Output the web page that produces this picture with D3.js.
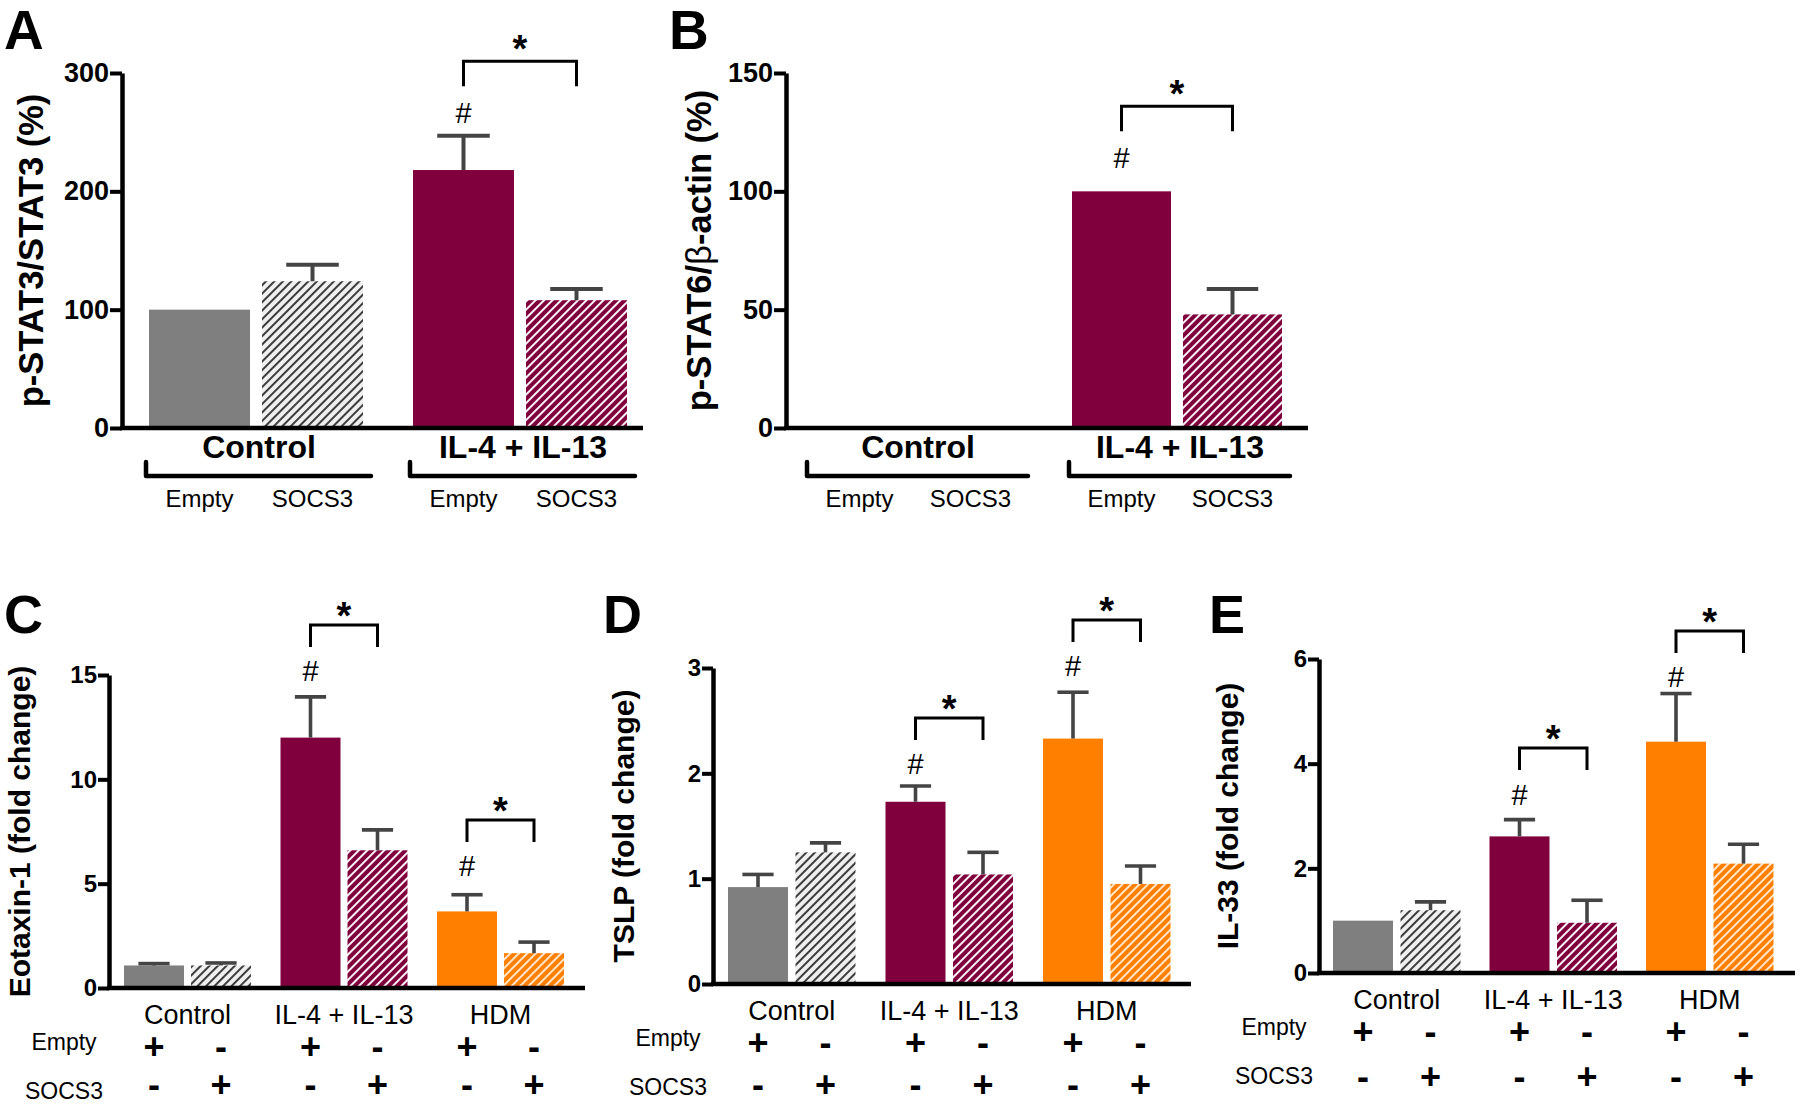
<!DOCTYPE html>
<html><head><meta charset="utf-8">
<script src="https://cdn.jsdelivr.net/npm/d3@7"></script>
<style>
body{margin:0;background:#fff}
svg{display:block}
text{font-family:"Liberation Sans",Arial,Helvetica,sans-serif}
</style>
</head><body>
<svg id="chart" width="1800" height="1106"></svg>
<script>
// ---------------- DATA ----------------
const groupsAB = ["Control", "IL-4 + IL-13"];
const groupsCDE = ["Control", "IL-4 + IL-13", "HDM"];
const vectors = ["Empty", "SOCS3"];
const emptySigns = ["+", "-", "+", "-", "+", "-"];
const socs3Signs = ["-", "+", "-", "+", "-", "+"];

// A: p-STAT3/STAT3 (%)
const ticksA = [0, 100, 200, 300];
const stat3Mean = [100, 124, 218, 108];
const stat3Err = [0, 14, 29, 9.5];
const hashA = [[2, 266]];
const bracketA = [[2, 3, 310]];

// B: p-STAT6/beta-actin (%)
const ticksB = [0, 50, 100, 150];
const stat6Mean = [null, null, 100, 48];
const stat6Err = [0, 0, 0, 10.7];
const hashB = [[2, 114]];
const bracketB = [[2, 3, 136]];

// C: Eotaxin-1 (fold change)
const ticksC = [0, 5, 10, 15];
const eotaxinMean = [1.08, 1.08, 12.0, 6.6, 3.67, 1.67];
const eotaxinErr = [0.09, 0.12, 1.95, 0.98, 0.8, 0.53];
const hashC = [[2, 15.2], [4, 5.85]];
const bracketC = [[2, 3, 17.4], [4, 5, 8.05]];

// D: TSLP (fold change)
const ticksD = [0, 1, 2, 3];
const tslpMean = [0.92, 1.25, 1.73, 1.04, 2.33, 0.95];
const tslpErr = [0.12, 0.09, 0.15, 0.21, 0.44, 0.17];
const hashD = [[2, 2.09], [4, 3.02]];
const bracketD = [[2, 3, 2.525], [4, 5, 3.456]];

// E: IL-33 (fold change)
const ticksE = [0, 2, 4, 6];
const il33Mean = [1.0, 1.2, 2.61, 0.96, 4.42, 2.09];
const il33Err = [0, 0.16, 0.32, 0.43, 0.92, 0.37];
const hashE = [[2, 3.4], [4, 5.66]];
const bracketE = [[2, 3, 4.3], [4, 5, 6.535]];

// ---------------- LAYOUT / STYLE ----------------
const COLORS = {gray: "#7f7f7f", maroon: "#7f003c", orange: "#ff8000"};
const familyOf = ["gray", "maroon", "orange"];
const W = 1800, H = 1106;

const svg = d3.select("#chart");
const defs = svg.append("defs");
function hatch(id, bg, fg, w) {
  const p = defs.append("pattern").attr("id", id)
    .attr("patternUnits", "userSpaceOnUse").attr("width", 6).attr("height", 6)
    .attr("patternTransform", "rotate(45)");
  p.append("rect").attr("width", 6).attr("height", 6).attr("fill", bg);
  p.append("line").attr("x1", 3).attr("y1", -1).attr("x2", 3).attr("y2", 7)
    .attr("stroke", fg).attr("stroke-width", w);
}
hatch("h-gray", "#efefef", "#333333", 1.9);
hatch("h-maroon", COLORS.maroon, "#ffffff", 1.9);
hatch("h-orange", COLORS.orange, "#ffffff", 1.6);

const panels = [
  {letter: "A", lx: 4, ly: 49, ls: 55, label: ["p-STAT3/STAT3 (%)"], labX: 43, labSize: 34.5,
   groups: groupsAB, mean: stat3Mean, err: stat3Err, ticks: ticksA, ymax: 300,
   hash: hashA, brackets: bracketA, kind: "AB",
   axisX: 122, axisEnd: 643, y0: 428, yTop: 73, barStart: 149, barW: 101, innerGap: 12, groupGap: 50},
  {letter: "B", lx: 669, ly: 49, ls: 55, label: ["p-STAT6/", "β", "-actin (%)"], labX: 711, labSize: 34.5,
   groups: groupsAB, mean: stat6Mean, err: stat6Err, ticks: ticksB, ymax: 150,
   hash: hashB, brackets: bracketB, kind: "AB",
   axisX: 786, axisEnd: 1308, y0: 428, yTop: 73, barStart: 810, barW: 99, innerGap: 12, groupGap: 52},
  {letter: "C", lx: 4, ly: 633, ls: 54, label: ["Eotaxin-1 (fold change)"], labX: 30, labSize: 30,
   groups: groupsCDE, mean: eotaxinMean, err: eotaxinErr, ticks: ticksC, ymax: 15,
   hash: hashC, brackets: bracketC, kind: "CDE",
   axisX: 109, axisEnd: 585, y0: 988, yTop: 675, barStart: 124, barW: 60, innerGap: 7, groupGap: 29.5},
  {letter: "D", lx: 603, ly: 633, ls: 54, label: ["TSLP (fold change)"], labX: 634, labSize: 30,
   groups: groupsCDE, mean: tslpMean, err: tslpErr, ticks: ticksD, ymax: 3,
   hash: hashD, brackets: bracketD, kind: "CDE",
   axisX: 713, axisEnd: 1191, y0: 984, yTop: 668, barStart: 728, barW: 60, innerGap: 7.5, groupGap: 30},
  {letter: "E", lx: 1209, ly: 633, ls: 54, label: ["IL-33 (fold change)"], labX: 1238, labSize: 30,
   groups: groupsCDE, mean: il33Mean, err: il33Err, ticks: ticksE, ymax: 6,
   hash: hashE, brackets: bracketE, kind: "CDE",
   axisX: 1319, axisEnd: 1795, y0: 973, yTop: 659, barStart: 1333, barW: 60, innerGap: 7.5, groupGap: 29}
];

function drawPanel(p) {
  const g = svg.append("g");
  const AB = p.kind === "AB";
  const y = d3.scaleLinear().domain([0, p.ymax]).range([p.y0, p.yTop]);
  const groupW = 2 * p.barW + p.innerGap;
  const step = groupW + p.groupGap;
  const r0 = p.barStart - p.groupGap / 2;
  const x0 = d3.scaleBand().domain(p.groups)
    .range([r0, r0 + step * p.groups.length])
    .paddingInner(p.groupGap / step).paddingOuter(p.groupGap / step / 2);
  const x1 = d3.scaleBand().domain(vectors).range([0, x0.bandwidth()])
    .paddingInner(p.innerGap / (p.barW + p.innerGap));
  const bx = i => x0(p.groups[Math.floor(i / 2)]) + x1(vectors[i % 2]);
  const bw = x1.bandwidth();
  const bc = i => bx(i) + bw / 2;

  const idx = d3.range(p.mean.length).filter(i => p.mean[i] != null);

  // bars
  g.selectAll("rect.bar").data(idx).join("rect").attr("class", "bar")
    .attr("x", i => bx(i)).attr("width", bw)
    .attr("y", i => y(p.mean[i])).attr("height", i => y(0) - y(p.mean[i]))
    .attr("fill", i => {
      const fam = familyOf[Math.floor(i / 2)];
      return i % 2 === 0 ? COLORS[fam] : `url(#h-${fam})`;
    });

  // error bars (upper only)
  const eIdx = idx.filter(i => p.err[i] > 0);
  const capW = bw * 0.52;
  const ew = AB ? 4 : 3.6;
  g.selectAll("line.stem").data(eIdx).join("line")
    .attr("x1", bc).attr("x2", bc)
    .attr("y1", i => y(p.mean[i])).attr("y2", i => y(p.mean[i] + p.err[i]))
    .attr("stroke", "#444").attr("stroke-width", ew);
  g.selectAll("line.cap").data(eIdx).join("line")
    .attr("x1", i => bc(i) - capW / 2).attr("x2", i => bc(i) + capW / 2)
    .attr("y1", i => y(p.mean[i] + p.err[i])).attr("y2", i => y(p.mean[i] + p.err[i]))
    .attr("stroke", "#444").attr("stroke-width", ew);

  // y axis
  const ax = g.append("g").attr("transform", `translate(${p.axisX},0)`)
    .call(d3.axisLeft(y).tickValues(p.ticks).tickFormat(d3.format("d"))
      .tickSize(AB ? 12 : 11).tickSizeOuter(0).tickPadding(1));
  ax.select(".domain").attr("stroke", "#000").attr("stroke-width", 4.5);
  ax.selectAll(".tick line").attr("stroke", "#000").attr("stroke-width", 4);
  ax.selectAll(".tick text").attr("fill", "#000")
    .style("font-family", '"Liberation Sans",Arial,sans-serif')
    .style("font-weight", "bold").style("font-size", (AB ? 27 : 24) + "px");

  // x axis line
  g.append("line").attr("x1", p.axisX - 2).attr("x2", p.axisEnd)
    .attr("y1", y(0)).attr("y2", y(0)).attr("stroke", "#000").attr("stroke-width", 4.5);

  // significance brackets
  const drop = AB ? 25 : 22, starOff = AB ? 20 : 17;
  p.brackets.forEach(([a, b, v]) => {
    const yt = y(v);
    g.append("path")
      .attr("d", `M${bc(a)},${yt + drop}V${yt}H${bc(b)}V${yt + drop}`)
      .attr("fill", "none").attr("stroke", "#000").attr("stroke-width", 3);
    g.append("text").attr("x", (bc(a) + bc(b)) / 2).attr("y", yt - starOff + 21)
      .attr("text-anchor", "middle").style("font-weight", "bold").style("font-size", "38px").text("*");
  });
  p.hash.forEach(([i, v]) => {
    g.append("text").attr("x", bc(i)).attr("y", y(v) + 10)
      .attr("text-anchor", "middle").style("font-size", "29px").text("#");
  });

  // panel letter
  g.append("text").attr("x", p.lx).attr("y", p.ly)
    .style("font-weight", "bold").style("font-size", p.ls + "px").text(p.letter);

  // y label
  const mid = (p.y0 + p.yTop) / 2;
  const yl = g.append("text").attr("transform", `translate(${p.labX},${mid}) rotate(-90)`)
    .attr("text-anchor", "middle").style("font-weight", "bold").style("font-size", p.labSize + "px");
  p.label.forEach(s => {
    const t = yl.append("tspan").text(s);
    if (s === "β") t.style("font-weight", "normal");
  });

  if (AB) {
    p.groups.forEach(gr => {
      const gx = x0(gr), gw = x0.bandwidth();
      g.append("text").attr("x", gx + gw / 2 + 3).attr("y", 458)
        .attr("text-anchor", "middle").style("font-weight", "bold").style("font-size", "32px").text(gr);
      g.append("path").attr("d", `M${gx - 3},462V476H${gx + gw + 8}`)
        .attr("fill", "none").attr("stroke", "#000").attr("stroke-width", 4.5)
        .attr("stroke-linecap", "round").attr("stroke-linejoin", "round");
    });
    d3.range(4).forEach(i => {
      g.append("text").attr("x", bc(i)).attr("y", 507).attr("text-anchor", "middle")
        .style("font-size", "24px").text(vectors[i % 2]);
    });
  } else {
    const y0 = y(0);
    p.groups.forEach(gr => {
      g.append("text").attr("x", x0(gr) + x0.bandwidth() / 2).attr("y", y0 + 35.5)
        .attr("text-anchor", "middle").style("font-size", "27px").text(gr);
    });
    g.append("text").attr("x", p.axisX - 45).attr("y", y0 + 62).attr("text-anchor", "middle")
      .style("font-size", "23px").text(vectors[0]);
    g.append("text").attr("x", p.axisX - 45).attr("y", Math.min(y0 + 111, H - 6)).attr("text-anchor", "middle")
      .style("font-size", "23px").text(vectors[1]);
    const signSize = 36;
    const socsBase = Math.min(y0 + 116, H - 9);
    [[emptySigns, y0 + 71], [socs3Signs, socsBase]].forEach(([signs, base]) => {
      signs.forEach((s, i) => {
        g.append("text").attr("x", bc(i)).attr("y", base).attr("text-anchor", "middle")
          .style("font-weight", "bold").style("font-size", signSize + "px").text(s);
      });
    });
  }
}
panels.forEach(drawPanel);
</script>
</body></html>
